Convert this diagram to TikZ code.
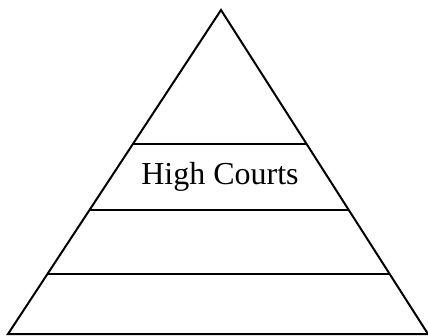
\documentclass[tikz,border=0pt]{standalone}
\usepackage{fontspec}
\setmainfont{Liberation Serif}
\usetikzlibrary{calc}

\begin{document}
\begin{tikzpicture}[x=1pt, y=-1pt, line width=2pt, line join=miter]
    \useasboundingbox (0,0) rectangle (428,335);

    % Pyramid outline
    \coordinate (apex) at (221,10);
    \coordinate (bl) at (8,334);
    \coordinate (br) at (428,334);
    \draw (bl) -- (apex) -- (br) -- cycle;

    % Tier lines
    \foreach \t/\n in {0.415/a, 0.618/b, 0.815/c} {
        \coordinate (l\n) at ($(apex)!\t!(bl)$);
        \coordinate (r\n) at ($(apex)!\t!(br)$);
        \draw (l\n) -- (r\n);
    }

    % Label
    \node[font=\fontsize{32}{36}\selectfont] (hc) at (220,177) {High Courts};
\end{tikzpicture}
\end{document}
